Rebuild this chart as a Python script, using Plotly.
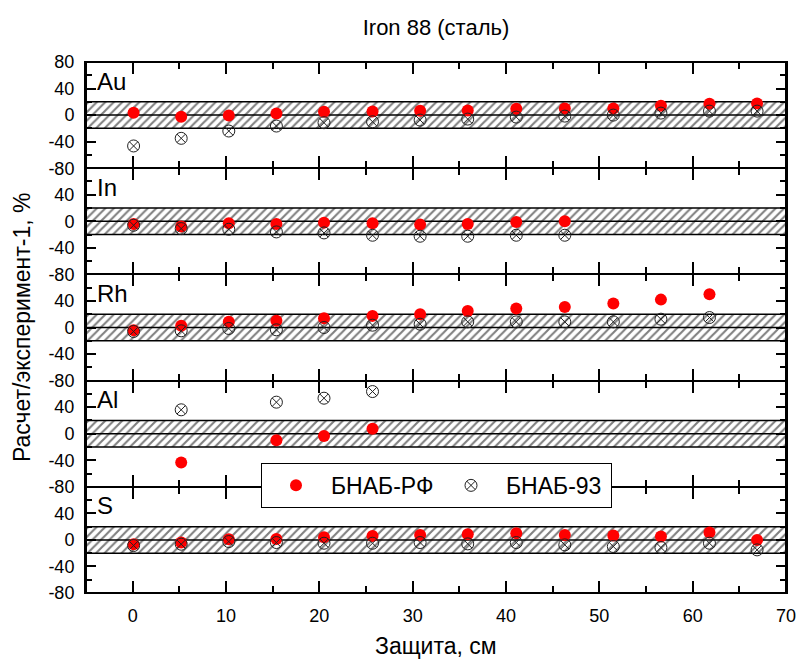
import plotly.graph_objects as go
from plotly.subplots import make_subplots

# ---- data ----
elements = ["Au", "In", "Rh", "Al", "S"]
x_cm = [0.1, 5.2, 10.3, 15.4, 20.5, 25.7, 30.8, 35.9, 41.1, 46.3, 51.5, 56.6, 61.8, 66.9]

au_rf = [3.5, -2.5, -0.5, 2.5, 5, 5.5, 6.5, 7, 9.5, 10, 10, 14, 17, 17.5]
au_93 = [-46.5, -35, -24, -16.5, -11.5, -10, -7.5, -6, -3, -1.5, 0, 3, 6, 6]

in_rf = [-4, -8, -3, -4, -2, -3, -5, -4, -1, 0, None, None, None, None]
in_93 = [-6, -11, -12, -16, -17.5, -21, -22.5, -22.5, -21, -21, None, None, None, None]

rh_rf = [-4, 2.5, 8.5, 10, 14, 17.5, 20, 25, 28.5, 31, 36, 42, 50, None]
rh_93 = [-6, -5, -1.5, -3.5, 0, 3.5, 5, 8.5, 8.5, 8.5, 8.5, 12.5, 15, None]

al_rf = [None, -43.5, None, -10, -3.5, 7.5, None, None, None, None, None, None, None, None]
al_93 = [None, 36, None, 47.5, 53.5, 63.5, None, None, None, None, None, None, None, None]

s_rf = [-6.5, -4, 1, 1.5, 4, 6, 7.5, 8.5, 10, 7.5, 6.5, 5, 11, 0]
s_93 = [-8.5, -6.5, -2.5, -4, -5, -5, -4, -6, -4, -7.5, -10, -11.5, -5, -15]

series_rf = [au_rf, in_rf, rh_rf, al_rf, s_rf]
series_93 = [au_93, in_93, rh_93, al_93, s_93]

band = 20          # +/- 20 % tolerance band
x_range = [-5, 70]
y_range = [-80, 80]

title = "Iron 88 (сталь)"
x_title = "Защита, см"
y_title = "Расчет/эксперимент-1, %"
name_rf = "БНАБ-РФ"
name_93 = "БНАБ-93"

FONT = "Liberation Sans, Arial, sans-serif"

fig = make_subplots(rows=5, cols=1, shared_xaxes=True, vertical_spacing=0)

for i, el in enumerate(elements):
    r = i + 1
    # hatched tolerance band
    fig.add_trace(go.Scatter(
        x=[x_range[0], x_range[1], x_range[1], x_range[0], x_range[0]],
        y=[-band, -band, band, band, -band],
        mode="lines", fill="toself", fillcolor="white",
        fillpattern=dict(shape="/", fgcolor="black", bgcolor="white", size=6, solidity=0.35),
        line=dict(color="black", width=1.5),
        hoverinfo="skip", showlegend=False), row=r, col=1)
    fig.add_trace(go.Scatter(
        x=x_range, y=[0, 0], mode="lines",
        line=dict(color="black", width=1.5),
        hoverinfo="skip", showlegend=False), row=r, col=1)
    fig.add_trace(go.Scatter(
        x=x_cm, y=series_rf[i], mode="markers", name=name_rf,
        marker=dict(symbol="circle", size=12, color="#ff0000"),
        showlegend=(i == 0), legendgroup="rf"), row=r, col=1)
    fig.add_trace(go.Scatter(
        x=x_cm, y=series_93[i], mode="markers", name=name_93,
        marker=dict(symbol="circle-x-open", size=12, color="#222",
                    line=dict(width=1, color="#222")),
        showlegend=(i == 0), legendgroup="93"), row=r, col=1)

    fig.add_annotation(text=el, xref="x domain" if r == 1 else f"x{r} domain",
                       yref="y domain" if r == 1 else f"y{r} domain",
                       x=0.013, y=0.82, xanchor="left", yanchor="middle",
                       showarrow=False, font=dict(size=24, color="black", family=FONT))

    yt = [-80, -40, 0, 40, 80] if r == 1 else [-80, -40, 0, 40]
    fig.update_yaxes(range=y_range, tickvals=yt, ticktext=[str(v) for v in yt],
                     ticks="inside", ticklen=10, tickwidth=1.5, tickcolor="black",
                     minor=dict(tickvals=[-60, -20, 20, 60], ticks="inside", ticklen=6,
                                tickwidth=1.5, tickcolor="black"),
                     showline=True, linewidth=2, linecolor="black", mirror="ticks",
                     showgrid=False, zeroline=False, ticklabelstandoff=6,
                     tickfont=dict(size=18, color="black", family=FONT),
                     row=r, col=1)
    fig.update_xaxes(range=x_range, dtick=10, tick0=0,
                     ticks="inside", ticklen=12, tickwidth=1.5, tickcolor="black",
                     minor=dict(dtick=5, ticks="inside", ticklen=7, tickwidth=1.5,
                                tickcolor="black"),
                     showline=True, linewidth=1, linecolor="black", mirror="ticks",
                     showgrid=False, zeroline=False,
                     showticklabels=(r == 5), ticklabelstandoff=6,
                     tickfont=dict(size=18, color="black", family=FONT),
                     row=r, col=1)

# outer frame
fig.add_shape(type="rect", xref="paper", yref="paper", x0=0, x1=1, y0=0, y1=1,
              line=dict(color="black", width=2), fillcolor="rgba(0,0,0,0)", layer="above")

fig.add_annotation(text=y_title, xref="paper", yref="paper", x=-0.092, y=0.5,
                   textangle=-90, showarrow=False, xanchor="center", yanchor="middle",
                   font=dict(size=23, color="black", family=FONT))
fig.add_annotation(text=x_title, xref="paper", yref="paper", x=0.5, y=-0.1,
                   showarrow=False, xanchor="center", yanchor="middle",
                   font=dict(size=23, color="black", family=FONT))

fig.update_layout(
    width=808, height=659,
    margin=dict(l=86, r=13, t=62, b=66),
    paper_bgcolor="white", plot_bgcolor="white",
    title=dict(text=title, x=0.5, xref="paper", xanchor="center",
               y=1 - 27 / 659, yanchor="middle",
               font=dict(size=22, color="black", family=FONT)),
    legend=dict(orientation="h", x=0.25, xanchor="left", y=0.245, yanchor="top",
                bgcolor="white", bordercolor="black", borderwidth=1,
                entrywidth=100, itemwidth=60,
                font=dict(size=23, color="black", family=FONT)),
    font=dict(family=FONT, color="black"),
)

fig.write_html("out.html")
